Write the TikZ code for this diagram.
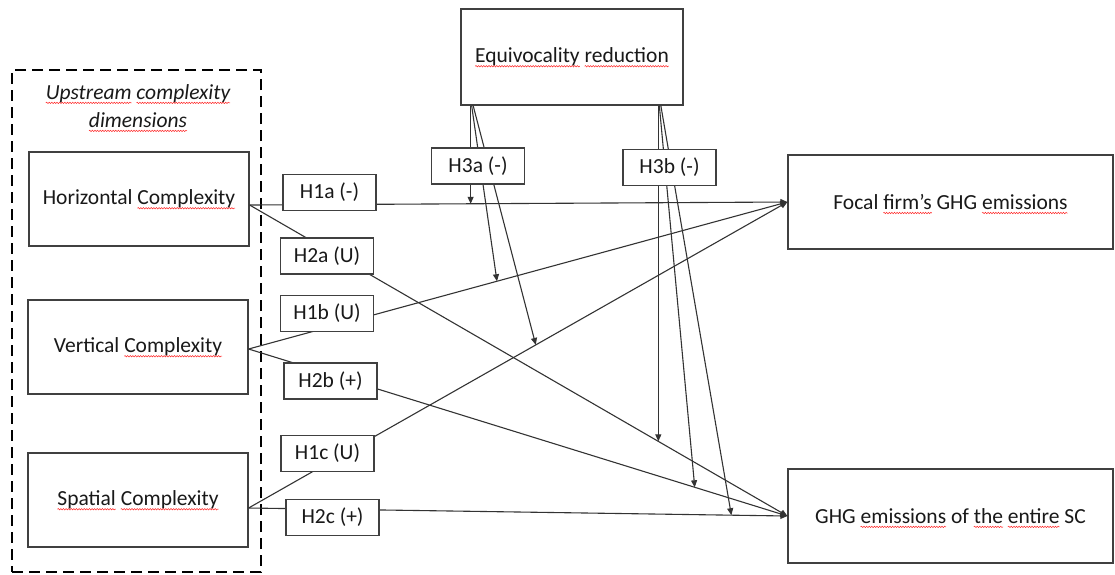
\documentclass[tikz,border=0pt]{standalone}
\usepackage{fontspec}
\setmainfont{Carlito}
\usetikzlibrary{arrows.meta,decorations.pathmorphing,calc}
\newcommand\sqw[1]{\tikz[baseline=(w.base)]{\node[inner sep=0pt,outer sep=0pt,draw=none,fill=none,minimum width=0pt,minimum height=0pt,shape=rectangle,anchor=base](w){#1};\draw[overlay,red!85,line width=0.5pt,decorate,decoration={snake,amplitude=0.7pt,segment length=2.6pt}]([yshift=-3.5pt]w.base west)--([yshift=-3.5pt]w.base east);}}
\begin{document}
\begin{tikzpicture}[x=1pt,y=-1pt,
  every node/.append style={font=\fontsize{21.5}{28}\selectfont},
  box/.style={draw=black!75,line width=1.2pt,fill=white,inner sep=0pt,align=center,text=black!90},
  lab/.style={box,minimum width=93pt,minimum height=36pt},
  conn/.style={draw=black!80,line width=1.1pt},
  arr/.style={conn,-{Triangle[length=7pt,width=6pt]}}]
\useasboundingbox (0,0) rectangle (1115,574);

% grouping frame
\node[draw=black,line width=2pt,dash pattern=on 11pt off 6pt,minimum width=249pt,minimum height=502pt,inner sep=0pt] (dim) at (136.5,321) {};
\node[align=center,text=black!90,font=\fontsize{21.5}{28}\selectfont\itshape] (up) at (138,106) {\sqw{Upstream} \sqw{complexity}\\\sqw{dimensions}};

% main boxes
\node[box,minimum width=222pt,minimum height=96pt] (eq) at (572,57) {\sqw{Equivocality} \sqw{reduction}};
\node[box,minimum width=220pt,minimum height=94pt] (hor) at (139,199) {Horizontal \sqw{Complexity}};
\node[box,minimum width=220pt,minimum height=94pt] (vert) at (138,347) {Vertical \sqw{Complexity}};
\node[box,minimum width=220pt,minimum height=94pt] (spat) at (138,500) {\sqw{Spatial} \sqw{Complexity}};
\node[box,minimum width=325pt,minimum height=94pt] (focal) at (950.5,202) {Focal \sqw{firm’s} GHG \sqw{emissions}};
\node[box,minimum width=325pt,minimum height=94pt] (sc) at (950.5,516) {GHG \sqw{emissions} of \sqw{the} \sqw{entire} SC};

% start points
\coordinate (hs) at ([yshift=-6pt]hor.east);
\coordinate (vs) at ([yshift=-2pt]vert.east);
\coordinate (ss) at ([yshift=-8pt]spat.east);

% direct effects
\draw[arr] (hs) -- coordinate[pos=0.411] (t1) (focal.west);
\draw[arr] (hs) -- coordinate[pos=0.760] (t4) (sc.west);
\draw[arr] (vs) -- coordinate[pos=0.461] (t2) (focal.west);
\draw[arr] (vs) -- coordinate[pos=0.828] (t5) (sc.west);
\draw[arr] (ss) -- coordinate[pos=0.533] (t3) (focal.west);
\draw[arr] (ss) -- coordinate[pos=0.896] (t6) (sc.west);

% moderation
\draw[arr] (t1 |- eq.south) -- (t1);
\draw[arr] ($(t1 |- eq.south)+(1,0)$) -- (t2);
\draw[arr] ($(t1 |- eq.south)+(2.5,0)$) -- (t3);
\draw[arr] (t4 |- eq.south) -- (t4);
\draw[arr] ($(t4 |- eq.south)+(1,0)$) -- (t5);
\draw[arr] ($(t4 |- eq.south)+(2.5,0)$) -- (t6);

% labels
\node[lab] (h1a) at (329.5,192.5) {H1a (-)};
\node[lab] (h2a) at (327,256) {H2a (U)};
\node[lab] (h1b) at (327,313.5) {H1b (U)};
\node[lab] (h2b) at (330.5,381) {H2b (+)};
\node[lab] (h1c) at (327.5,453.5) {H1c (U)};
\node[lab] (h2c) at (332.5,517.5) {H2c (+)};
\node[lab] (h3a) at (478,166) {H3a (-)};
\node[lab] (h3b) at (669.5,167.5) {H3b (-)};
\end{tikzpicture}
\end{document}
